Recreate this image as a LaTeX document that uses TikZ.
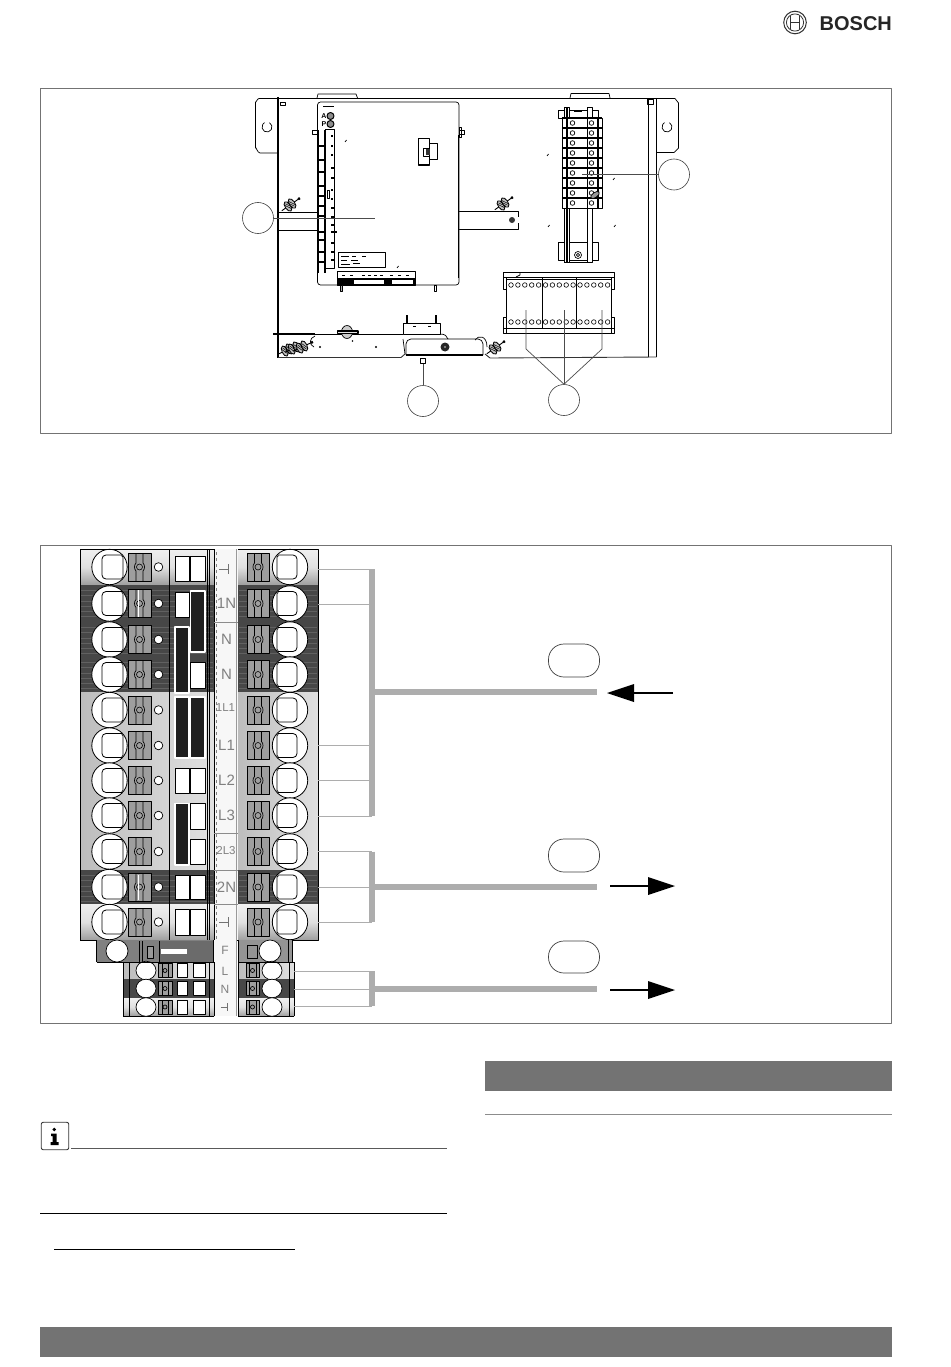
\documentclass[tikz,border=0pt]{standalone}
\usepackage{fontspec}
\setmainfont{Liberation Sans}
\newfontfamily\logofont[BoldFont=*,BoldFeatures={FakeBold=1.2}]{Liberation Sans Bold}
\begin{document}
\begin{tikzpicture}[x=1pt,y=-1pt,line join=round,
  frame/.style={draw=black!55,line width=0.7pt},
  callout/.style={circle,draw=black!75,line width=0.6pt,fill=white,minimum size=31pt,inner sep=0pt},
  leader/.style={draw=black!70,line width=0.7pt},
  cab/.style={draw=black,line width=0.7pt},
  cabthick/.style={draw=black,line width=2.2pt},
  wire/.style={draw=black!32,line width=1pt},
  bus/.style={draw=black!32,line width=6pt},
  rlabel/.style={text=black!50,font=\fontsize{15}{15}\selectfont,inner sep=0pt},
  rsmall/.style={text=black!50,font=\fontsize{11.5}{12}\selectfont,inner sep=0pt},
  llabel/.style={text=black!50,font=\fontsize{12}{12}\selectfont,inner sep=0pt},
  bridge/.style={fill=black!88,draw=white,line width=1.2pt},
  cell/.style={fill=white,draw=black,line width=0.6pt},
  arrowline/.style={draw=black,line width=2.8pt},
  arrowtip/.style={fill=black,draw=none},
  pillbox/.style={draw=black!75,line width=0.7pt,fill=white,rounded corners=15.5pt}]
\useasboundingbox (0,0) rectangle (950,1367);
\fill[white] (0,0) rectangle (950,1367);
% ---- logo
\draw[black!80,line width=1pt] (795,22.5) circle (11.3);
\draw[black!80,line width=0.8pt] (795,22.5) circle (8.6);
\draw[black!80,line width=0.9pt] (790.5,16) -- (790.5,29) (799.5,16) -- (799.5,29) (790.5,22.5) -- (799.5,22.5);
\node[anchor=west,inner sep=0pt,text=black!85,font=\fontsize{20}{20}\logofont\selectfont] (logo) at (819.5,23.5) {BOSCH};
% ---- panel 1
\draw[frame] (40.5,88.5) rectangle (891.5,433);
% brackets and box
\draw[cab] (278,98.5) -- (259,98.5) to[out=180,in=270] (255.5,102) -- (255.5,148) to[out=90,in=180] (260,153) -- (278,153);
\draw[cab] (269.5,122.7) arc[start angle=-60,end angle=240,radius=5];
\draw[cab] (656,98.5) -- (675,98.5) -- (678.5,103) -- (678.5,148) -- (674,152.5) -- (656,152.5);
\draw[cab] (669.5,122.7) arc[start angle=-60,end angle=240,radius=5];
\draw[cab] (278,98) -- (656,98);
\draw[cabthick] (278.3,97) -- (278.3,358);
\draw[cab] (656.5,98) -- (656.5,357);
\draw[cab] (648.5,100) -- (648.5,357);
\draw[cab,line width=0.5pt] (647,99) rectangle (653,104);
\draw[cab] (317,98) -- (318,94) -- (356,94) -- (357.5,98);
\draw[cab] (570,98) -- (571,93.5) -- (609,93.5) -- (610,98);
\draw[cab] (280,102) rectangle (285,105);
% bottom edge
\draw[draw=black!80,line width=0.9pt] (278,357.5) -- (401,357.5) -- (405,354);
\draw[draw=black!80,line width=0.9pt] (485,354) -- (490,358) -- (656.5,357);
\draw[draw=black,line width=1.8pt] (273,334) -- (315,334);
\draw[draw=black,line width=0.9pt] (315,334) -- (403,334);
% horizontal rails
\draw[cab] (278,212) -- (317,212) (278,230) -- (317,230);
\draw[cab] (459,211) -- (518.5,211) -- (518.5,217) (459,229.5) -- (518.5,229.5) -- (518.5,223);
\fill[black!80] (512,220) circle (3);
% board
\draw[cab,fill=white,rounded corners=3pt] (317.5,102) rectangle (459,285);
\draw[draw=black,line width=1.6pt] (458.5,135) -- (458.5,278);
\draw[draw=black,line width=1.8pt] (318.5,130) -- (318.5,273);
\draw[draw=black,line width=1.6pt] (325,130) -- (325,273);
\foreach \yy in {146,160,172,186,196,206,216,232,240,252,262}{\draw[draw=black,line width=1.1pt] (318,\yy) -- (325,\yy);}
\draw[draw=black,line width=1pt] (325,130) rectangle (334.5,268);
\foreach \yy/\ww in {136/2,146/2,155/2,168/3,178/3,190/2,199/2,208/3,217/3,225/4,232/6,243/3,252/3,260/4}{\draw[draw=black,line width=1.2pt] (331,\yy) -- ++(\ww,0);}
\draw[cab] (327,190) rectangle ++(2,8);
\draw[cab] (312,130) rectangle (318,134);
\draw[cab] (459,130) rectangle (464,134);
\draw[cab] (459,127) rectangle (461,137);
\node[inner sep=0pt,font=\fontsize{7}{7}\selectfont\bfseries] (ta) at (324,116) {A};
\node[inner sep=0pt,font=\fontsize{7}{7}\selectfont\bfseries] (tp) at (324,124) {P};
\draw[draw=black,line width=1pt,fill=black!45] (330.5,116) circle (3.5);
\draw[draw=black,line width=1pt,fill=black!45] (330.5,124) circle (3.5);
\draw[draw=black,line width=1pt] (323,107) -- (334,107);
% connector
\draw[draw=black,line width=1.3pt,fill=white] (418.5,138.5) rectangle (429.5,165);
\draw[cab] (430,143) -- (437,143) -- (437,159) -- (430,159);
\draw[cab] (423,148) rectangle (429,156);
\fill[black!80] (426,149) rectangle (430,155);
% label boxes
\draw[cab] (338.5,252.5) rectangle (385.5,267);
\foreach \yy/\xa/\xb in {256/341/349,256/352/356,256/362/366,260/341/347,260/351/358,264/341/350,263/353/360}{\draw[draw=black,line width=1pt] (\xa,\yy) -- (\xb,\yy);}
\draw[cab] (337.5,271.5) rectangle (415,285);
\fill[black] (337,278) rectangle (415,285);
\fill[white] (354,279.5) rectangle (384,284);
\fill[white] (392,279.5) rectangle (413,284);
\foreach \xx in {342,350,362,368,374,380,390,398,406}{\draw[draw=black,line width=1pt] (\xx,275) -- ++(3,0);}
\draw[cab,fill=black!30] (340.5,285) rectangle (342.5,291);
\draw[cab] (434,285) rectangle (436,291);
% board specks
\foreach \px/\py in {345/142,547/156,613/180,548/227,614/227,397/268}{\draw[draw=black,line width=0.7pt] (\px,\py) -- ++(1.5,-2);}
% screws
\newcommand{\screwmark}[3]{\begin{scope}[shift={(#1,#2)},rotate=#3]
 \draw[draw=black,line width=0.9pt] (-10,0) -- (12,0);
 \fill[black] (10,-1.2) rectangle (12,1.2);
 \draw[draw=black,line width=0.8pt,fill=black!25] (-2.5,0) ellipse (2.8 and 5.5);
 \draw[draw=black,line width=0.8pt,fill=black!25] (2.5,0) ellipse (2.8 and 5.5);
 \foreach \q in {-3,-1,1,3}{\draw[draw=black,line width=0.5pt] (\q-2,-3.5) -- (\q+2,3.5);}
 \end{scope}}
\screwmark{290}{205}{35}
\screwmark{503}{204}{35}
\screwmark{495}{348}{35}
\screwmark{287}{350}{25}
\screwmark{294}{348}{25}
\screwmark{302}{347}{25}
\draw[cab] (315,336) .. controls (309,338) and (309,345) .. (314,347);
\fill[black] (320,347) circle (1.2) (376,347) circle (1.2);
\fill[black] (352.5,341) circle (0.8);
% top-centre screw
\draw[cab,fill=black!20] (347,332) ellipse (5.5 and 6.5);
\draw[draw=black,line width=1.6pt,fill=black!10] (337.5,331) rectangle (358,333.5);
% bracket at the base
\draw[cab,fill=white] (403.5,323) rectangle (440,334);
\draw[draw=black,line width=1.1pt] (407,315) -- (407,323) (436,315) -- (436,323);
\draw[cab] (413,326.5) -- (416,326.5) (428,326.5) -- (431,326.5);
\draw[cab,fill=white,rounded corners=5pt] (406,355) -- (406,339) -- (483,339) -- (483,355);
\draw[draw=black,line width=1.8pt] (406,355) -- (483,355);
\fill[black!85] (445,347) circle (4.5);
\fill[black!40] (445,347) circle (1.2);
\draw[cab] (475,340) .. controls (478,335) and (487,335) .. (487,347);
\draw[cab] (440,334) .. controls (445,334) and (447,336) .. (448,339);
\draw[cab] (403,339) -- (405,354);
% DIN rail
\draw[cab] (558.5,110) rectangle (598,118);
\draw[cab] (558.5,242) rectangle (598,260);
\draw[cab,fill=white] (564.5,107.5) rectangle (569.5,262);
\draw[cab,fill=white] (587,107.5) rectangle (592,262);
\draw[draw=black,line width=1pt] (564,262) -- (592,262);
\draw[draw=black,line width=2.4pt] (567,108) -- (567,262);
\draw[draw=black,line width=1.5pt] (574,111) -- (582,111);
\draw[cab,fill=white] (578,255) circle (3.5);
\draw[cab] (578,255) circle (1.7);
\foreach \i in {0,...,8}{
 \pgfmathsetmacro{\ty}{118+\i*10}
 \draw[cab,fill=white] (562,\ty) rectangle (602,\ty+10);
 \draw[draw=black,line width=1.2pt] (562,\ty) -- (602,\ty);
 \draw[draw=black,line width=2.2pt] (567,\ty) -- (567,\ty+10);
 \draw[draw=black,line width=1.2pt] (598,\ty) -- (598,\ty+10);
 \draw[cab] (587,\ty) -- (587,\ty+10);
 \draw[cab] (572.5,\ty+5) circle (2.3);
 \draw[cab] (591.5,\ty+5) circle (2.3);
}
\draw[cab,fill=black!40,rotate around={35:(595,195)}] (595,195) ellipse (5 and 2.5);
% terminal board
\draw[cab,fill=white] (503.5,272) rectangle (614,277);
\draw[cab] (503.5,277) rectangle (506.5,289) (611,277) rectangle (614,289);
\draw[cab] (506.5,277) -- (506.5,328) (611,277) -- (611,328) (506.5,279) -- (611,279);
\draw[cab] (520,272) -- (520,275) -- (516,277);
\draw[cab,fill=white] (503.5,317) rectangle (506.5,333) (611,317) rectangle (614,333);
\draw[cab] (503.5,328) -- (614,328) (503.5,333) -- (614,333);
\foreach \i in {0,...,14}{
 \pgfmathsetmacro{\cx}{511+\i*6.9}
 \draw[draw=black,line width=0.6pt] (\cx,285) circle (2.3) (\cx,322) circle (2.3);
}
\draw[cab] (542,277) -- (542,328) (576.5,277) -- (576.5,328);
% callouts panel 1
\node[callout] (c1) at (258,218) {};
\node[callout] (c2) at (674,174.5) {};
\node[callout] (c3) at (423,401) {};
\node[callout] (c4) at (564,400) {};
\coordinate (c1end) at (375,218);
\coordinate (c2end) at (582,174.5);
\coordinate (c3end) at (423,358);
\coordinate (t1) at (526,310);
\coordinate (t1b) at (526,349);
\coordinate (t2) at (564,310);
\coordinate (t3) at (602,310);
\coordinate (t3b) at (602,349);
\draw[leader] (c1.east) -- (c1end);
\draw[leader] (c2.west) -- (c2end);
\draw[leader] (c3.north) -- (c3end);
\draw[cab,fill=white] (420.5,358) rectangle (425.5,363);
\draw[leader] (c4.north) -- (t1b) -- (t1);
\draw[leader] (c4.north) -- (t2);
\draw[leader] (c4.north) -- (t3b) -- (t3);
% ---- panel 2
\draw[frame] (40.5,545.5) rectangle (891.5,1023);
\tikzset{
 gnd/.style={top color=black!6,bottom color=black!38,middle color=black!12},
 lrow/.style={left color=black!26,right color=black!12},
 drow/.style={fill=black!72}}
\newcommand{\clampmark}[4]{% x-left, x-right, centre y, half height
 \pgfmathsetmacro{\xm}{(#1+#2)/2}
 \draw[draw=black,line width=0.8pt,fill=black!38] (#1,#3-#4) rectangle (#2,#3+#4);
 \draw[cab] (\xm-3.5,#3-#4) -- (\xm-3.5,#3-4) .. controls (\xm-5.5,#3-2) and (\xm-5.5,#3+2) .. (\xm-3.5,#3+4) -- (\xm-3.5,#3+#4);
 \draw[cab] (\xm+3.5,#3-#4) -- (\xm+3.5,#3-4) .. controls (\xm+5.5,#3-2) and (\xm+5.5,#3+2) .. (\xm+3.5,#3+4) -- (\xm+3.5,#3+#4);
 \draw[draw=black,line width=0.6pt] (\xm,#3) circle (3);
}
% row backgrounds first
\foreach \t/\b/\s in {549/585/gnd,585/622/drow,622/657/drow,657/692/drow,692/728/lrow,728/763/lrow,763/798/lrow,798/833/lrow,833/870/lrow,870/904/drow,904/940/gnd}{
 \path[\s] (80,\t) rectangle (214,\b);
 \path[\s] (238,\t) rectangle (318,\b);
 \ifnum\pdfstrcmp{\s}{drow}=0
  \foreach \k in {0.15,0.3,0.45,0.6,0.75,0.9}{\draw[draw=black!62,line width=0.4pt] (81,\t+\k*35) -- (213,\t+\k*35) (239,\t+\k*35) -- (317,\t+\k*35);}
 \fi
 \draw[draw=black,line width=0.8pt] (80,\b) -- (214,\b) (238,\b) -- (318,\b);
}
% row furniture on top
\foreach \t/\b in {549/585,585/622,622/657,657/692,692/728,728/763,763/798,798/833,833/870,870/904,904/940}{
 \pgfmathsetmacro{\c}{(\t+\b)/2}
 \draw[cab,fill=white,line width=0.8pt] (109.5,\c) circle (17.7);
 \draw[cab,fill=white,rounded corners=4pt,line width=0.8pt] (102,\c-12) -- (118,\c-12) to[out=0,in=90] (123,\c-6) -- (123,\c+6) to[out=270,in=0] (118,\c+12) -- (102,\c+12) -- cycle;
 \clampmark{128}{151}{\c}{14}
 \draw[cab,fill=white] (158.5,\c) circle (4.3);
 \clampmark{247}{269}{\c}{14}
 \draw[cab,fill=white,line width=0.8pt] (290,\c) circle (17.7);
 \draw[cab,fill=white,rounded corners=4pt,line width=0.8pt] (297,\c-12) -- (282,\c-12) to[out=180,in=90] (277,\c-6) -- (277,\c+6) to[out=270,in=180] (282,\c+12) -- (297,\c+12) -- cycle;
}
\draw[draw=white,line width=0.7pt] (138,590) -- (138,617) (138,875) -- (138,900);
\draw[draw=black,line width=1pt] (80.5,549) rectangle (318,940);
\draw[draw=black,line width=0.8pt] (169,549) -- (169,940);
% centre strip
\fill[black!3] (214,549) rectangle (238,940);
\draw[draw=black!50,line width=0.5pt,dashed] (216,552) -- (216,940);
\draw[draw=black!40,line width=0.6pt] (236.5,549) -- (236.5,1016);
\draw[draw=black,line width=0.7pt] (207,549) -- (207,940) (209.5,549) -- (209.5,940) (214,549) -- (214,940);
\foreach \yy in {622,833,870,904}{\draw[draw=black!45,line width=0.4pt] (214,\yy) -- (238,\yy);}
% white cells
\foreach \t/\b/\l/\r in {556/581/175/189,556/581/190/205,592/617/175/189,662/688/190/205,768/793/175/189,768/793/190/205,803/829/190/205,839/864/190/205,875/899/175/189,875/899/190/205,909/935/175/189,909/935/190/205}{
 \draw[cell] (\l,\t) rectangle (\r,\b);
}
% bridges
\draw[bridge] (190.5,591) rectangle (205,652);
\draw[bridge] (175,627) rectangle (189,693);
\draw[bridge] (175,697) rectangle (189,758);
\draw[bridge] (190.5,697) rectangle (205,758);
\draw[bridge] (175,803.5) rectangle (189,865);
% labels
\foreach \t/\b/\l/\n in {585/622/1N/l1,622/657/N/l2,657/692/N/l3,728/763/L1/l5,763/798/L2/l6,798/833/L3/l7,870/904/2N/l9}{
 \node[rlabel] (\n) at (226.5,{(\t+\b)/2}) {\l};
}
\node[rsmall] (l4) at (225.5,708) {1L1};
\node[rsmall] (l8) at (226,851) {2L3};
\newcommand{\gndmark}[3][1]{\draw[draw=black!55,line width=0.9pt] (#2-7*#1,#3) -- (#2+2*#1,#3) (#2+2*#1,#3-5*#1) -- (#2+2*#1,#3+5*#1);}
\gndmark{226}{569}
\gndmark{226}{922}
% F row
\fill[black!50] (96,940) rectangle (213,962);
\fill[black!58] (159,941) rectangle (213,962);
\draw[cab] (96.5,940) -- (96.5,962) (213,940) -- (213,962) (96.5,962) -- (213,962);
\draw[cab] (139,941) -- (139,962) (142,941) -- (142,962) (159,941) -- (159,962);
\draw[cab,fill=white] (117,951) circle (11);
\draw[cab,fill=black!40] (147.5,946) rectangle (153,958);
\fill[white] (161,948.5) rectangle (187,953.5);
\fill[black!42] (238,940) rectangle (292,962);
\draw[cab] (238,940) -- (238,962) (288,940) -- (288,962) (292,940) -- (292,962) (238,962) -- (292,962);
\draw[cab] (247,945) rectangle (257,958);
\draw[cab,fill=white] (270,951) circle (11);
\fill[black!3] (214,940) rectangle (236,962);
\node[llabel] (lf) at (225,950) {F};
% small rows
\foreach \t/\b/\s in {962/979/lrow,979/998/drow,998/1016/gnd}{
 \path[\s] (123,\t) rectangle (214,\b);
 \path[\s] (238,\t) rectangle (294,\b);
 \draw[cab] (123,\b) -- (214,\b) (238,\b) -- (294,\b);
 \fill[black!3] (214.5,\t) rectangle (236,\b);
}
\foreach \t/\b in {962/979,979/998,998/1016}{
 \pgfmathsetmacro{\c}{(\t+\b)/2}
 \draw[cab,fill=white] (146,\c) ellipse (10 and 9.3);
 \draw[cab,fill=black!38] (158.5,\c-7) rectangle (172,\c+7);
 \draw[cab] (162,\c-7) -- (162,\c+7) (168,\c-7) -- (168,\c+7);
 \draw[cab] (165,\c) circle (2);
 \draw[cell] (177,\c-7) rectangle (187,\c+7);
 \draw[cell] (193,\c-7) rectangle (205,\c+7);
 \draw[cab,fill=black!38] (246,\c-7) rectangle (259,\c+7);
 \draw[cab] (249,\c-7) -- (249,\c+7) (256,\c-7) -- (256,\c+7);
 \draw[cab] (252.5,\c) circle (2);
 \draw[cab,fill=white] (272,\c) ellipse (10 and 9.3);
}
\draw[cab] (123,962) -- (123,1016) (294,962) -- (294,1016) (214,962) -- (214,1016) (238,962) -- (238,1016) (123,962) -- (214,962) (238,962) -- (294,962) (129,962) -- (129,1016) (289,962) -- (289,1016) (209,962) -- (209,1016);
\node[llabel] (ll) at (225,971) {L};
\node[llabel] (ln) at (225,989) {N};
\gndmark[0.75]{226}{1007}
% wiring group A
\coordinate (w1) at (318,569);
\coordinate (w2) at (318,604);
\coordinate (w3) at (318,745.5);
\coordinate (w4) at (318,780.5);
\coordinate (w5) at (318,816);
\coordinate (va1) at (371.5,569);
\coordinate (va2) at (371.5,816);
\coordinate (ba) at (371.5,692);
\coordinate (ea) at (597,692);
\draw[wire] (w1) -- (va1) (w2) -- (371.5,604) (w3) -- (371.5,745.5) (w4) -- (371.5,780.5) (w5) -- (va2);
\draw[bus] (va1) -- (va2);
\draw[bus] (ba) -- (ea);
% wiring group B
\coordinate (w6) at (318,851.5);
\coordinate (w7) at (318,887);
\coordinate (w8) at (318,922);
\coordinate (vb1) at (371.5,851.5);
\coordinate (vb2) at (371.5,922);
\coordinate (bb) at (371.5,887);
\coordinate (eb) at (597,887);
\draw[wire] (w6) -- (vb1) (w7) -- (bb) (w8) -- (vb2);
\draw[bus] (vb1) -- (vb2);
\draw[bus] (bb) -- (eb);
% wiring group C
\coordinate (w9) at (294,971);
\coordinate (w10) at (294,989);
\coordinate (w11) at (294,1006);
\coordinate (vc1) at (371.5,971);
\coordinate (vc2) at (371.5,1006);
\coordinate (bc) at (371.5,988.5);
\coordinate (ec) at (597,988.5);
\draw[wire] (w9) -- (vc1) (w10) -- (371.5,989) (w11) -- (vc2);
\draw[bus] (vc1) -- (vc2);
\draw[bus] (bc) -- (ec);
% arrows
\draw[arrowline] (673,693) -- (630,693);
\fill[arrowtip] (607,693) -- (634,684) -- (634,702) -- cycle;
\draw[arrowline] (610,886) -- (652,886);
\fill[arrowtip] (675,886) -- (648,877) -- (648,895) -- cycle;
\draw[arrowline] (610,990) -- (652,990);
\fill[arrowtip] (675,990) -- (648,981) -- (648,999) -- cycle;
% pills
\node[pillbox,minimum width=51pt,minimum height=33pt,inner sep=0pt] (p1) at (574,660.5) {};
\node[pillbox,minimum width=51pt,minimum height=33pt,inner sep=0pt] (p2) at (574,855.5) {};
\node[pillbox,minimum width=51pt,minimum height=32pt,inner sep=0pt] (p3) at (574,957) {};
% ---- page furniture
\fill[black!55] (485,1061) rectangle (891.5,1091);
\draw[draw=black!45,line width=1pt] (485,1114) -- (891.5,1114);
\node[draw=black!80,line width=0.9pt,rounded corners=2pt,minimum size=27.5pt,inner sep=0pt,fill=white] (ibox) at (55,1136) {};
\fill[black] (54.2,1129.5) circle (1.9);
\fill[black] (51,1133.5) -- (56.5,1133.5) -- (56.5,1142) -- (58.5,1142) -- (58.5,1145) -- (50.5,1145) -- (50.5,1142) -- (52.5,1142) -- (52.5,1136) -- (51,1136) -- cycle;
\draw[draw=black!65,line width=1pt] (71,1148.5) -- (447,1148.5);
\draw[draw=black,line width=0.9pt] (40,1213.5) -- (447,1213.5);
\draw[draw=black,line width=0.9pt] (54,1249) -- (294.5,1249);
\fill[black!55] (40,1327) rectangle (891.5,1357);
\end{tikzpicture}
\end{document}
